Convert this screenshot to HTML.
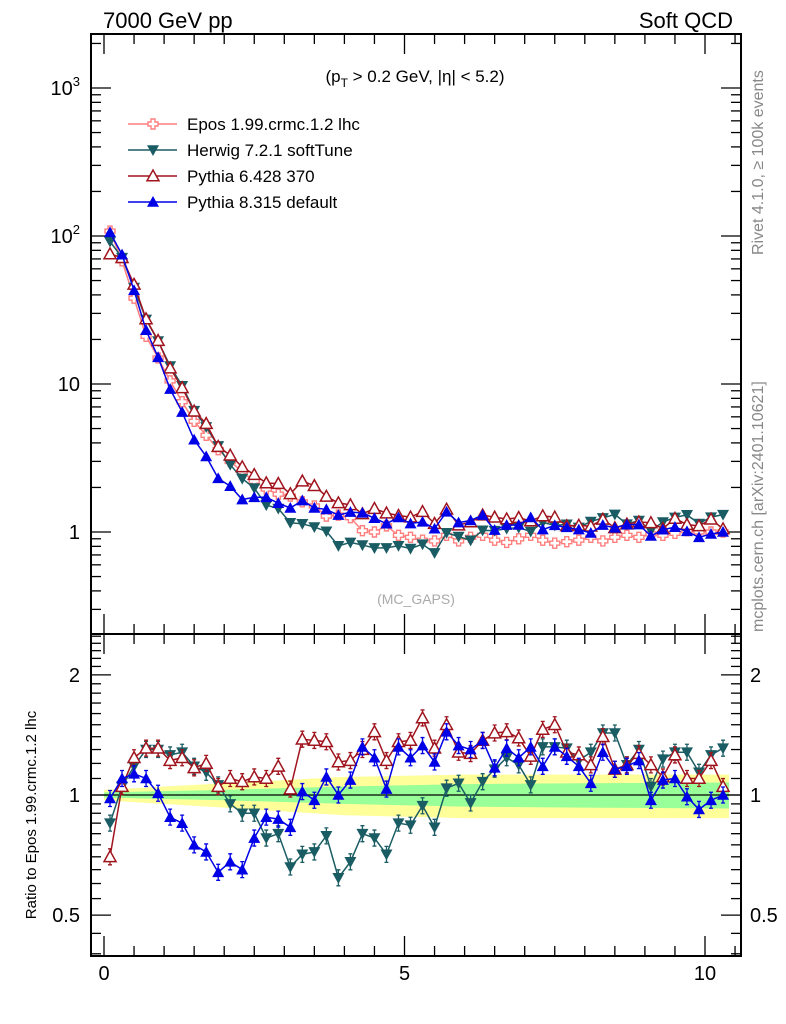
<!DOCTYPE html>
<html><head><meta charset="utf-8"><style>
html,body{margin:0;padding:0;background:#fff}
svg{display:block;font-family:"Liberation Sans",sans-serif}
</style></head><body>
<svg id="chart" width="786" height="1024" xmlns="http://www.w3.org/2000/svg">
<g id="band"></g>
<g id="frames"></g>
<g id="series"></g>
<g id="labels">
<text x="103" y="28" font-size="22">7000 GeV pp</text>
<text x="733" y="28" font-size="22" text-anchor="end">Soft QCD</text>
<text x="415" y="82" font-size="17" text-anchor="middle">(p<tspan dy="5" font-size="12">T</tspan><tspan dy="-5"> &gt; 0.2 GeV, |η| &lt; 5.2)</tspan></text>
<text x="416" y="604" font-size="14" fill="#aaa" text-anchor="middle">(MC_GAPS)</text>
<text transform="translate(763,255) rotate(-90)" font-size="16" fill="#888">Rivet 4.1.0, ≥ 100k events</text>
<text transform="translate(763,632) rotate(-90)" font-size="16" fill="#888">mcplots.cern.ch [arXiv:2401.10621]</text>
<text transform="translate(36,815) rotate(-90)" font-size="15" text-anchor="middle">Ratio to Epos 1.99.crmc.1.2 lhc</text>
</g>
<g id="legend"></g>
</svg>
<script>
const xs=[0.1,0.3,0.5,0.7,0.9,1.1,1.3,1.5,1.7,1.9,2.1,2.3,2.5,2.7,2.9,3.1,3.3,3.5,3.7,3.9,4.1,4.3,4.5,4.7,4.9,5.1,5.3,5.5,5.7,5.9,6.1,6.3,6.5,6.7,6.9,7.1,7.3,7.5,7.7,7.9,8.1,8.3,8.5,8.7,8.9,9.1,9.3,9.5,9.7,9.9,10.1,10.3];
const eposVals=[108,68,38,21,15,10.5,7.6,5.6,4.5,3.6,3.0,2.55,2.2,1.95,1.8,1.75,1.6,1.5,1.28,1.3,1.25,1.02,1.0,1.1,0.95,0.92,0.88,0.87,0.95,0.87,0.92,0.95,0.88,0.85,0.9,0.95,0.88,0.84,0.86,0.88,0.92,0.87,0.92,0.95,0.92,0.97,0.95,0.98,1.02,1.0,1.0,1.0];
const herwigRatio=[0.85,1.05,1.18,1.30,1.30,1.26,1.28,1.18,1.14,1.06,0.95,0.90,0.90,0.78,0.80,0.66,0.71,0.72,0.79,0.62,0.68,0.80,0.78,0.71,0.85,0.84,0.94,0.83,1.04,1.07,0.955,1.08,1.16,1.24,1.19,1.06,1.32,1.32,1.31,1.22,1.28,1.43,1.43,1.19,1.30,1.05,1.23,1.28,1.28,1.14,1.26,1.31];
const py6Ratio=[0.70,1.05,1.24,1.31,1.31,1.22,1.24,1.17,1.20,1.05,1.10,1.08,1.11,1.10,1.18,1.035,1.38,1.37,1.36,1.21,1.22,1.30,1.44,1.22,1.36,1.37,1.56,1.31,1.50,1.28,1.27,1.37,1.43,1.44,1.39,1.25,1.46,1.50,1.28,1.26,1.19,1.40,1.16,1.19,1.27,1.19,1.11,1.26,1.10,1.10,1.22,1.05];
const py8Ratio=[0.98,1.10,1.13,1.10,1.01,0.88,0.85,0.75,0.72,0.64,0.68,0.65,0.78,0.88,0.87,0.83,1.02,0.97,1.11,1.0,1.09,1.32,1.24,1.035,1.32,1.24,1.33,1.21,1.44,1.33,1.30,1.37,1.17,1.31,1.24,1.32,1.18,1.32,1.25,1.18,1.07,1.28,1.16,1.18,1.22,0.97,1.09,1.10,0.99,0.92,0.97,1.0];
const bandX=[0,2,4,6,8,10.4];
const greenHalf=[0.015,0.03,0.05,0.065,0.07,0.075];
const yellowHalf=[0.03,0.07,0.11,0.125,0.125,0.125];
const mainTicks=[["1",0],["10",1]];
const ratioTickVals=[0.5,1,2];
const xTickVals=[0,5,10];

const L=91,R=741,T=34,D=634,B=956;
const X=v=>104+v*60.1;
const YM=v=>532-148*Math.log10(v);
const YR=v=>795-399*Math.log10(v);
const NS="http://www.w3.org/2000/svg";
function mk(tag,attrs,parent){const e=document.createElementNS(NS,tag);for(const k in attrs)e.setAttribute(k,attrs[k]);parent.appendChild(e);return e;}
const band=document.getElementById('band'),fr=document.getElementById('frames'),sg=document.getElementById('series'),lg=document.getElementById('legend'),lb=document.getElementById('labels');

function bandPath(h){let up=bandX.map((x,i)=>X(x)+','+YR(1+h[i])),dn=bandX.map((x,i)=>X(x)+','+YR(1-h[i])).reverse();return 'M'+up.join(' L')+' L'+dn.join(' L')+'Z';}
const yb=mk('path',{d:bandPath(yellowHalf),fill:'#ffff99'},band);


const gb=mk('path',{d:bandPath(greenHalf),fill:'#99ff99'},band);


const ref=mk('line',{x1:L,x2:R,y1:YR(1),y2:YR(1),stroke:'#000','stroke-width':1.3},band);



[[T,D],[D,B]].forEach(([a,b],i)=>{const r=mk('rect',{x:L,y:a,width:R-L,height:b-a,fill:'none',stroke:'#000','stroke-width':2},fr);

});
function tick(x1,y1,x2,y2){mk('line',{x1,y1,x2,y2,stroke:'#000','stroke-width':1.3},fr);}
for(let v=0;v<=10.5;v+=0.5){const x=X(v),maj=(v%5===0),len=maj?20:10;
 [[T,1],[D,-1],[D,1],[B,-1]].forEach(([y,s])=>tick(x,y,x,y+s*len));}
xTickVals.forEach(v=>{const t=mk('text',{x:X(v),y:980,'font-size':20,'text-anchor':'middle'},lb);t.textContent=v;
 
 });
for(let d=-1;d<=3;d++){for(let m=1;m<10;m++){const v=m*Math.pow(10,d),y=YM(v);if(y<T||y>D)continue;const len=m===1?20:10;tick(L,y,L+len,y);tick(R,y,R-len,y);}}
mainTicks.forEach(([s,d])=>{const t=mk('text',{x:80,y:YM(Math.pow(10,d))+7,'font-size':20,'text-anchor':'end'},lb);t.textContent=s;
 
 });
[2,3].forEach(d=>{const t=mk('text',{x:80,y:YM(Math.pow(10,d))+7,'font-size':20,'text-anchor':'end'},lb);t.innerHTML='10<tspan dy="-9" font-size="13">'+d+'</tspan>';
 
 });
for(let v=0.4;v<=2.5;v=Math.round((v+(v<1?0.05:0.1))*100)/100){const y=YR(v);if(y<D||y>B)continue;const maj=[0.5,1,2].includes(v);const len=maj?20:10;tick(L,y,L+len,y);tick(R,y,R-len,y);}
ratioTickVals.forEach(v=>{[[80,'end'],[750,'start']].forEach(([x,a])=>{const t=mk('text',{x:x,y:YR(v)+7,'font-size':20,'text-anchor':a},lb);t.textContent=v;
 
 });});

function marker(kind,cx,cy,col,g,s){s=s||6;
 if(kind==='cross'){const a=2,b=5;mk('path',{d:`M${cx-a},${cy-b}h${2*a}v${b-a}h${b-a}v${2*a}h${a-b}v${b-a}h${-2*a}v${a-b}h${a-b}v${-2*a}h${b-a}z`,fill:'#fff',stroke:col,'stroke-width':1.4},g);}
 else if(kind==='down')mk('path',{d:`M${cx-s},${cy-s*0.8}L${cx+s},${cy-s*0.8}L${cx},${cy+s}Z`,fill:col},g);
 else if(kind==='upopen')mk('path',{d:`M${cx-s},${cy+s*0.8}L${cx+s},${cy+s*0.8}L${cx},${cy-s}Z`,fill:'#fff',stroke:col,'stroke-width':1.5},g);
 else mk('path',{d:`M${cx-s},${cy+s*0.8}L${cx+s},${cy+s*0.8}L${cx},${cy-s}Z`,fill:col},g);}
const series=[
 {name:'epos',label:'Epos 1.99.crmc.1.2 lhc',col:'#ff7f7f',kind:'cross',r:xs.map(()=>1)},
 {name:'herwig',label:'Herwig 7.2.1 softTune',col:'#1a5c63',kind:'down',r:herwigRatio},
 {name:'pythia6',label:'Pythia 6.428 370',col:'#a0141e',kind:'upopen',r:py6Ratio},
 {name:'pythia8',label:'Pythia 8.315 default',col:'#0000e6',kind:'up',r:py8Ratio}];
series.forEach(s=>{
 const g=mk('g',{},sg);
 
 
 const mp=xs.map((x,i)=>X(x)+','+YM(eposVals[i]*s.r[i]));
 mk('polyline',{points:mp.join(' '),fill:'none',stroke:s.col,'stroke-width':1.5},g);
 xs.forEach((x,i)=>marker(s.kind,X(x),YM(eposVals[i]*s.r[i]),s.col,g));
 if(s.name!=='epos'){
  const rp=xs.map((x,i)=>X(x)+','+YR(s.r[i]));
  mk('polyline',{points:rp.join(' '),fill:'none',stroke:s.col,'stroke-width':1.5},g);
  xs.forEach((x,i)=>{const y=YR(s.r[i]),e=8;mk('path',{d:`M${X(x)},${y-e}V${y+e}M${X(x)-2},${y-e}h4M${X(x)-2},${y+e}h4`,stroke:s.col,'stroke-width':1.3,fill:'none'},g);
   marker(s.kind,X(x),y,s.col,g);});
 }
});
series.forEach((s,i)=>{const y=124+26*i;
 const g=mk('g',{},lg);
 
 
 mk('line',{x1:128,x2:177,y1:y,y2:y,stroke:s.col,'stroke-width':1.5},g);
 marker(s.kind,153,y,s.col,g,6);
 const t=mk('text',{x:187,y:y+6,'font-size':17},g);t.textContent=s.label;});
</script>
</body></html>
